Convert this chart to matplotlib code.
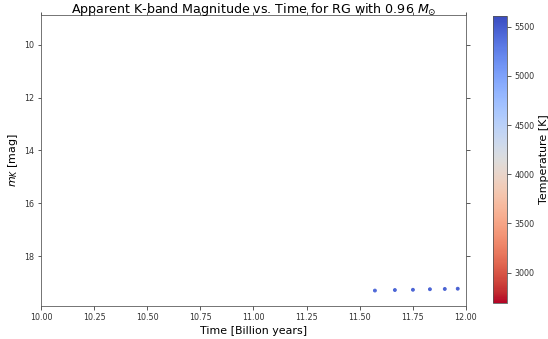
import matplotlib
matplotlib.use("Agg")
import matplotlib.pyplot as plt
import numpy as np

time_gyr = [11.572, 11.666, 11.751, 11.831, 11.901, 11.962]
mag_k = [19.31, 19.29, 19.28, 19.26, 19.25, 19.24]
temp_k = [5420, 5430, 5440, 5450, 5460, 5470]
t_min, t_max = 2690, 5610

fig = plt.figure(figsize=(548/72, 339/72), dpi=72)
ax = fig.add_axes([0.075, 0.097, 0.775, 0.859])
cax = fig.add_axes([0.899, 0.106, 0.027, 0.847])

sc = ax.scatter(time_gyr, mag_k, c=temp_k, cmap="coolwarm_r", vmin=t_min, vmax=t_max, s=8)
ax.set_xlim(10, 12)
ax.set_ylim(19.9, 8.86)
ax.set_xticks(np.arange(10, 12.01, 0.25))
ax.set_xticklabels([f"{v:.2f}" for v in np.arange(10, 12.01, 0.25)])
ax.set_yticks([10, 12, 14, 16, 18])
ax.tick_params(labelsize=8, top=True, right=True, colors="#333333")
for s in ax.spines.values():
    s.set_color("#555555")
ax.set_xlabel("Time [Billion years]", fontsize=11)
ax.set_ylabel(r"$m_K$ [mag]", fontsize=11)
ax.set_title(r"Apparent K-band Magnitude vs. Time for RG with 0.96 $M_{\odot}$", fontsize=12.6, pad=2)

cb = fig.colorbar(sc, cax=cax)
cb.set_label("Temperature [K]", fontsize=11)
cb.ax.tick_params(labelsize=8, colors="#333333")
cb.outline.set_edgecolor("#555555")

fig.savefig("out.png", dpi=72)
